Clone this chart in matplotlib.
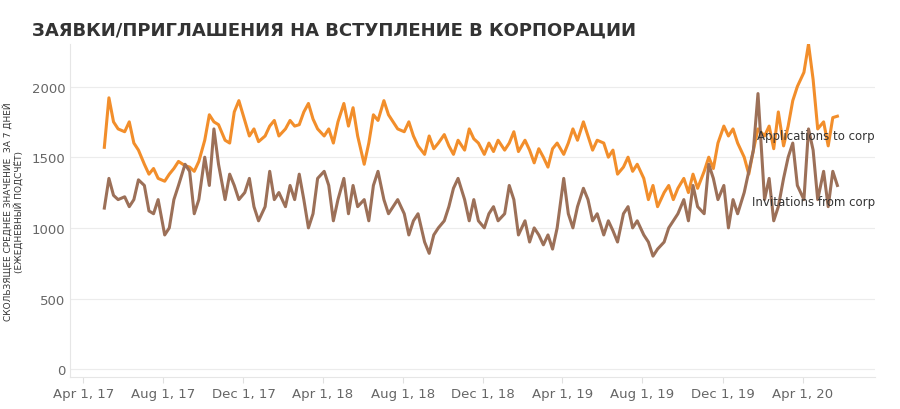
import matplotlib
matplotlib.use("Agg")
import matplotlib.pyplot as plt
import matplotlib.dates as mdates
import datetime as dt

months = ["2017-05","2017-06","2017-07","2017-08","2017-09","2017-10","2017-11","2017-12",
          "2018-01","2018-02","2018-03","2018-04","2018-05","2018-06","2018-07","2018-08",
          "2018-09","2018-10","2018-11","2018-12","2019-01","2019-02","2019-03","2019-04",
          "2019-05","2019-06","2019-07","2019-08","2019-09","2019-10","2019-11","2019-12",
          "2020-01","2020-02","2020-03","2020-04","2020-05"]
week_days = [3, 10, 17, 24]

applications = [1570,1920,1750,1700, 1680,1750,1600,1550, 1450,1380,1420,1350, 1330,1380,1420,1470,
                1440,1430,1400,1470, 1620,1800,1750,1730, 1620,1600,1820,1900, 1760,1650,1700,1610,
                1650,1720,1760,1650, 1700,1760,1720,1730, 1820,1880,1770,1700, 1650,1700,1600,1750,
                1880,1720,1850,1650, 1450,1600,1800,1760, 1900,1800,1750,1700, 1680,1750,1650,1580,
                1520,1650,1560,1600, 1660,1580,1520,1620, 1550,1700,1630,1600, 1520,1600,1540,1620,
                1550,1600,1680,1540, 1620,1550,1460,1560, 1500,1430,1560,1600, 1520,1600,1700,1620,
                1750,1650,1550,1620, 1600,1500,1550,1380, 1430,1500,1400,1450, 1350,1200,1300,1150,
                1250,1300,1200,1280, 1350,1250,1380,1280, 1400,1500,1420,1600, 1720,1650,1700,1600,
                1500,1380,1550,1700, 1650,1720,1560,1820, 1580,1720,1900,2000, 2100,2300,2050,1700,
                1750,1580,1780,1790]
invitations = [1140,1350,1230,1200, 1220,1150,1200,1340, 1300,1120,1100,1200, 950,1000,1200,1300,
               1450,1400,1100,1200, 1500,1300,1700,1450, 1200,1380,1300,1200, 1250,1350,1150,1050,
               1150,1400,1200,1250, 1150,1300,1200,1380, 1200,1000,1100,1350, 1400,1300,1050,1200,
               1350,1100,1300,1150, 1200,1050,1300,1400, 1200,1100,1150,1200, 1100,950,1050,1100,
               900,820,950,1000, 1050,1150,1280,1350, 1200,1050,1200,1050, 1000,1100,1150,1050,
               1100,1300,1200,950, 1050,900,1000,950, 880,950,850,1000, 1350,1100,1000,1150,
               1280,1200,1050,1100, 950,1050,980,900, 1100,1150,1000,1050, 950,900,800,850,
               900,1000,1050,1100, 1200,1050,1300,1150, 1100,1450,1350,1200, 1300,1000,1200,1100,
               1250,1400,1550,1950, 1200,1350,1050,1150, 1350,1500,1600,1300, 1200,1700,1550,1200,
               1400,1150,1400,1300]

dates = []
for m in months:
    y, mo = map(int, m.split("-"))
    for d in week_days:
        dates.append(dt.date(y, mo, d))

fig = plt.figure(figsize=(9, 4.1), dpi=100)
ax = fig.add_axes([0.078, 0.078, 0.894, 0.812])
ax.plot(dates, applications, color="#f28e2b", lw=2.2, solid_joinstyle="round")
ax.plot(dates, invitations, color="#9c7058", lw=2.2, solid_joinstyle="round")

ax.set_xlim(dt.date(2017, 3, 12), dt.date(2020, 7, 20))
ax.set_ylim(-55, 2300)
ax.set_yticks([0, 500, 1000, 1500, 2000])
ax.xaxis.set_major_locator(mdates.MonthLocator(bymonth=[4, 8, 12], bymonthday=1))
ax.xaxis.set_major_formatter(mdates.DateFormatter("%b %-d, %y"))
ax.grid(axis="y", color="#ececec", lw=0.8)
ax.set_axisbelow(True)
for s in ["top", "right"]:
    ax.spines[s].set_visible(False)
for s in ["left", "bottom"]:
    ax.spines[s].set_color("#e6e6e6")
ax.tick_params(axis="both", colors="#e0e0e0", labelcolor="#666666", labelsize=9.5, length=4)
ax.tick_params(axis="y", length=0)
ax.set_ylabel("СКОЛЬЗЯЩЕЕ СРЕДНЕЕ ЗНАЧЕНИЕ  ЗА 7 ДНЕЙ\n(ЕЖЕДНЕВНЫЙ ПОДСЧЁТ)",
              fontsize=6.5, color="#333333", labelpad=6, linespacing=1.1)

ax.text(1.0, 1650, "Applications to corp", transform=ax.get_yaxis_transform(),
        ha="right", va="center", fontsize=8.5, color="#333333")
ax.text(1.0, 1190, "Invitations from corp", transform=ax.get_yaxis_transform(),
        ha="right", va="center", fontsize=8.5, color="#333333")

fig.text(0.035, 0.925, "ЗАЯВКИ/ПРИГЛАШЕНИЯ НА ВСТУПЛЕНИЕ В КОРПОРАЦИИ",
         fontsize=13, color="#333333", fontweight="semibold", ha="left", va="center")

fig.savefig("out.png", dpi=100)
